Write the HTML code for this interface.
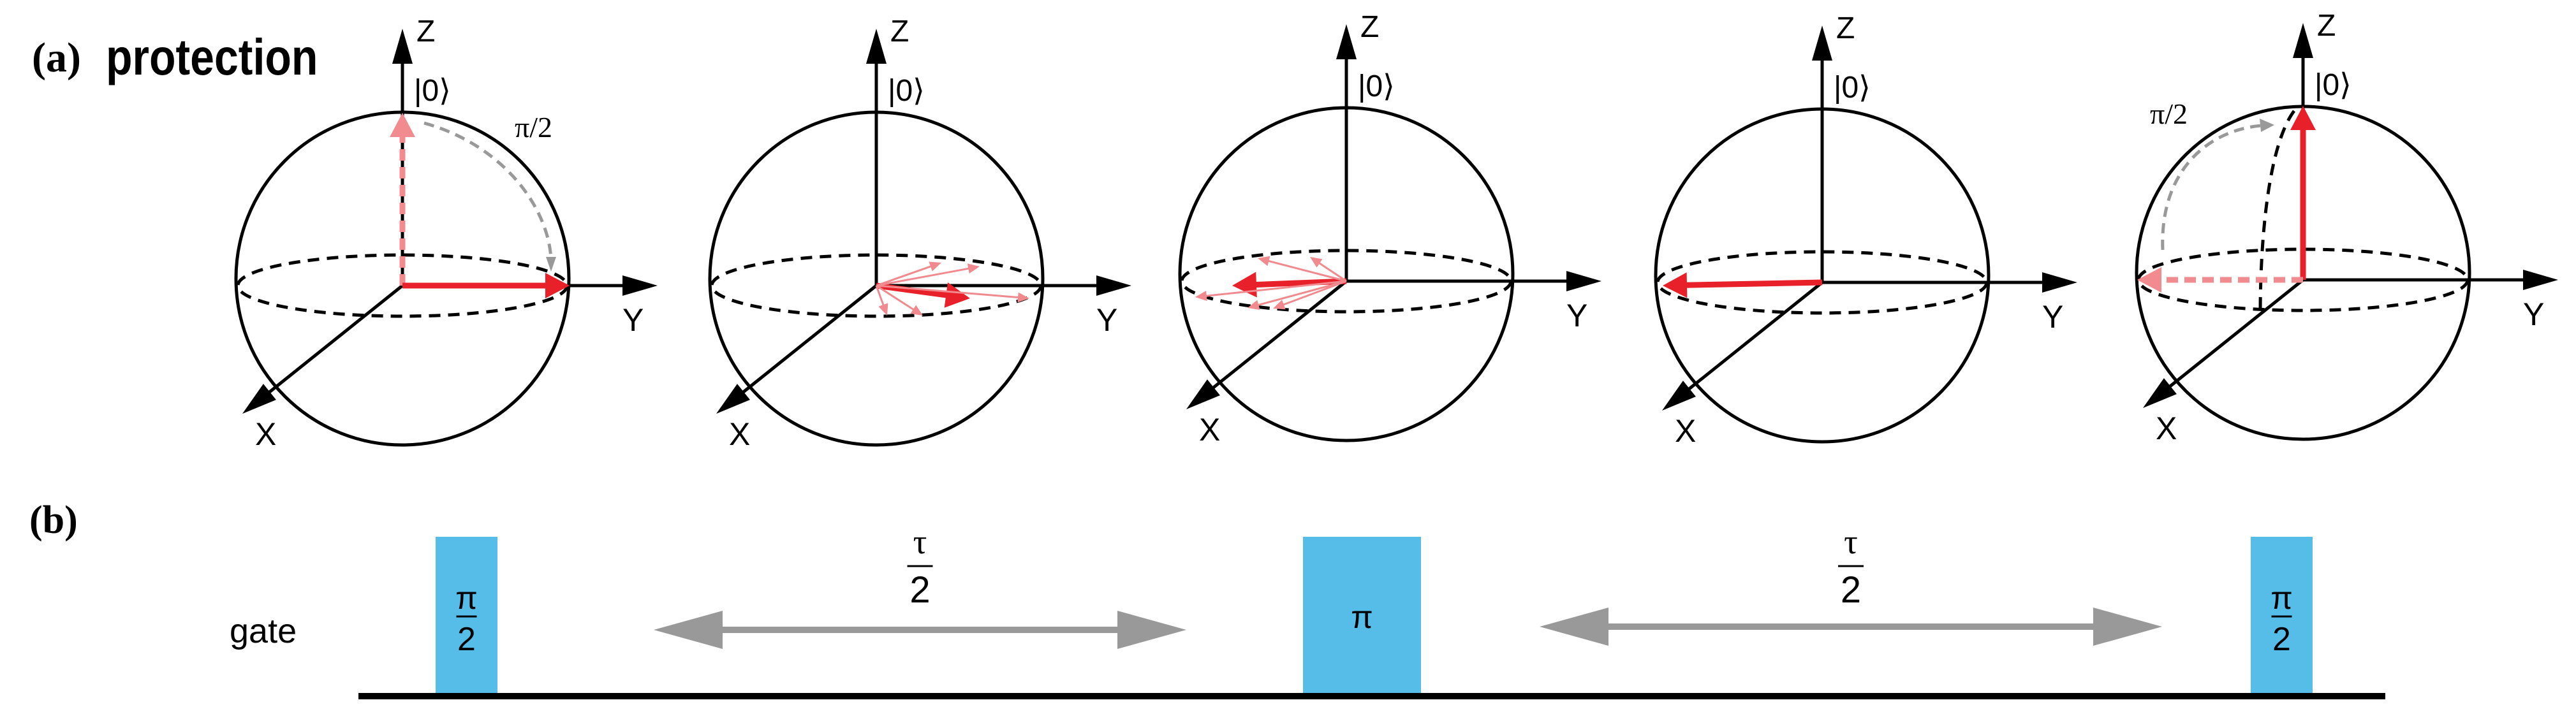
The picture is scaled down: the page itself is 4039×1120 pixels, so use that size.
<!DOCTYPE html>
<html><head><meta charset="utf-8"><style>
html,body{margin:0;padding:0;background:#fff;}
svg{display:block;}
text{font-family:"Liberation Sans",sans-serif;}
</style></head><body>
<svg id="fig" width="4039" height="1120" viewBox="0 0 4039 1120" xmlns="http://www.w3.org/2000/svg">
<text x="50" y="112" font-weight="bold" font-size="66" style="font-family:'Liberation Serif',serif">(a)</text>
<text x="166" y="117" font-weight="bold" font-size="68" transform="translate(0,-20) scale(1,1.17)">protection</text>
<text x="46" y="836" font-weight="bold" font-size="62" style="font-family:'Liberation Serif',serif">(b)</text>
<g id="spheres"></g>
<g id="seq"></g>
</svg>
<script>
// sphere centers (origin of axes)
const sphereX = [631, 1374, 2111, 2857, 3611];
const sphereY = [448, 448, 441, 443, 439];
const R = 261;
// state vectors per sphere: [dx, dy, kind]
const vecs1 = [[0,-271,'pale-dash'],[262,0,'main']];
const vecs2 = [[147,20,'main'],[102,-36,'faint'],[162,-30,'faint'],[240,20,'faint'],[17,47,'faint'],[73,47,'faint']];
const vecs3 = [[-179,7,'main'],[-139,-36,'faint'],[-57,-38,'faint'],[-237,25,'faint'],[-155,42,'faint'],[-115,43,'faint']];
const vecs4 = [[-250,5,'main']];
const vecs5 = [[0,-273,'main'],[-260,0,'pale-dash']];
const allVecs = [vecs1, vecs2, vecs3, vecs4, vecs5];
// sequence pulses
const pulseX = [683, 2043, 3529];
const pulseW = [97, 185, 97];
const pulseLabel = ['π/2', 'π', 'π/2'];
const waitX0 = [1025, 2414];
const waitX1 = [1860, 3390];
const waitY = [988, 983];

const NS = 'http://www.w3.org/2000/svg';
function mk(tag, attrs, parent){
  const e = document.createElementNS(NS, tag);
  for (const k in attrs) e.setAttribute(k, attrs[k]);
  parent.appendChild(e);
  return e;
}
function arrow(g, x1, y1, x2, y2, color, w, hl, hw, dash){
  const dx = x2-x1, dy = y2-y1, L = Math.hypot(dx,dy), ux = dx/L, uy = dy/L;
  const bx = x2-ux*hl, by = y2-uy*hl;
  const ln = mk('line', {x1:x1, y1:y1, x2:bx+ux*2, y2:by+uy*2, stroke:color, 'stroke-width':w}, g);
  if (dash) ln.setAttribute('stroke-dasharray', dash);
  mk('polygon', {points:`${x2},${y2} ${bx-uy*hw},${by+ux*hw} ${bx+uy*hw},${by-ux*hw}`, fill:color}, g);
}
const sg = document.getElementById('spheres');
sphereX.forEach((cx, i) => {
  const cy = sphereY[i];
  const g = mk('g', {}, sg);
  
  
  const c = mk('circle', {cx:cx, cy:cy-11, r:R, fill:'none', stroke:'#000', 'stroke-width':5}, g);
  
  
  const eq = mk('ellipse', {cx:cx, cy:cy, rx:R-3, ry:48, fill:'none', stroke:'#000', 'stroke-width':5, 'stroke-dasharray':'18 12'}, g);
  
  
  const az = mk('g', {}, g);
  
  
  arrow(az, cx, cy, cx, cy-403, '#000', 5, 55, 16);
  const ay = mk('g', {}, g);
  
  
  arrow(ay, cx, cy, cx+400, cy, '#000', 5, 55, 16);
  const ax = mk('g', {}, g);
  
  
  arrow(ax, cx, cy, cx-251, cy+201, '#000', 5, 55, 16);
  const tz = mk('text', {x:cx+22, y:cy-383, 'font-size':48}, g); tz.textContent='Z';
  
  
  const ty = mk('text', {x:cx+345, y:cy+71, 'font-size':50}, g); ty.textContent='Y';
  
  
  const tx = mk('text', {x:cx-231, y:cy+250, 'font-size':50}, g); tx.textContent='X';
  
  
  const tk = mk('text', {x:cx+18, y:cy-290, 'font-size':48}, g); tk.textContent='|0⟩';
  
  
  if (i === 0) {
    const arc = mk('path', {d:`M${cx+34},${cy-255} C${cx+160},${cy-220} ${cx+230},${cy-120} ${cx+233},${cy-40}`, fill:'none', stroke:'#999', 'stroke-width':5, 'stroke-dasharray':'16 10'}, g);
    
    
    mk('polygon', {points:`${cx+233},${cy-22} ${cx+225},${cy-45} ${cx+241},${cy-45}`, fill:'#999'}, g);
    const pt = mk('text', {x:cx+176, y:cy-233, 'font-size':46, style:"font-family:'Liberation Serif',serif"}, g); pt.textContent='π/2';
    
    
  }
  if (i === 4) {
    const mer = mk('path', {d:`M${cx-14},${cy-265} C${cx-55},${cy-210} ${cx-67},${cy-60} ${cx-67},${cy+51}`, fill:'none', stroke:'#000', 'stroke-width':5, 'stroke-dasharray':'18 12'}, g);
    
    
    const arc = mk('path', {d:`M${cx-220},${cy-47} C${cx-225},${cy-170} ${cx-150},${cy-235} ${cx-65},${cy-242}`, fill:'none', stroke:'#999', 'stroke-width':5, 'stroke-dasharray':'16 10'}, g);
    
    
    mk('polygon', {points:`${cx-45},${cy-243} ${cx-68},${cy-253} ${cx-66},${cy-232}`, fill:'#999'}, g);
    const pt = mk('text', {x:cx-240, y:cy-245, 'font-size':46, style:"font-family:'Liberation Serif',serif"}, g); pt.textContent='π/2';
    
    
  }
  allVecs[i].forEach(v => {
    const vg = mk('g', {}, g);
    
    
    if (v[2] === 'main') arrow(vg, cx, cy, cx+v[0], cy+v[1], '#E8202A', 9, 38, 20);
    else if (v[2] === 'faint') arrow(vg, cx, cy, cx+v[0], cy+v[1], '#F08A8E', 3, 18, 8);
    else arrow(vg, cx, cy, cx+v[0], cy+v[1], '#F28B8F', 9, 38, 20, '18 10');
  });
});
const q = document.getElementById('seq');
const gate = mk('text', {x:360, y:1008, 'font-size':54}, q); gate.textContent = 'gate';


pulseX.forEach((x, i) => {
  const w = pulseW[i];
  const r = mk('rect', {x:x, y:842, width:w, height:248, fill:'#56BCE8'}, q);
  
  
  const cxp = x + w/2;
  if (pulseLabel[i] === 'π') {
    const t = mk('text', {x:cxp, y:985, 'font-size':50, 'text-anchor':'middle'}, q); t.textContent = 'π';
    
    
  } else {
    const t = mk('text', {x:cxp, y:955, 'font-size':50, 'text-anchor':'middle'}, q); t.textContent = 'π';
    
    
    mk('line', {x1:cxp-16, y1:967, x2:cxp+16, y2:967, stroke:'#000', 'stroke-width':3}, q);
    const t2 = mk('text', {x:cxp, y:1020, 'font-size':52, 'text-anchor':'middle'}, q); t2.textContent = '2';
    
    
  }
});
waitX0.forEach((x0, i) => {
  const x1 = waitX1[i], y = waitY[i];
  const a = mk('g', {}, q);
  
  
  mk('rect', {x:x0+100, y:y-5, width:x1-x0-200, height:10, fill:'#999'}, a);
  mk('polygon', {points:`${x0},${y} ${x0+108},${y-30} ${x0+108},${y+30}`, fill:'#999'}, a);
  mk('polygon', {points:`${x1},${y} ${x1-108},${y-30} ${x1-108},${y+30}`, fill:'#999'}, a);
  const mx = (x0 + x1)/2;
  const t = mk('text', {x:mx, y:868, 'font-size':54, 'text-anchor':'middle', style:"font-family:'Liberation Serif',serif"}, q); t.textContent = 'τ';
  
  
  mk('line', {x1:mx-20, y1:888, x2:mx+20, y2:888, stroke:'#000', 'stroke-width':3}, q);
  const t2 = mk('text', {x:mx, y:945, 'font-size':58, 'text-anchor':'middle'}, q); t2.textContent = '2';
  
  
});
const base = mk('rect', {x:562, y:1087, width:3178, height:10, fill:'#000'}, q);


</script>
</body></html>
